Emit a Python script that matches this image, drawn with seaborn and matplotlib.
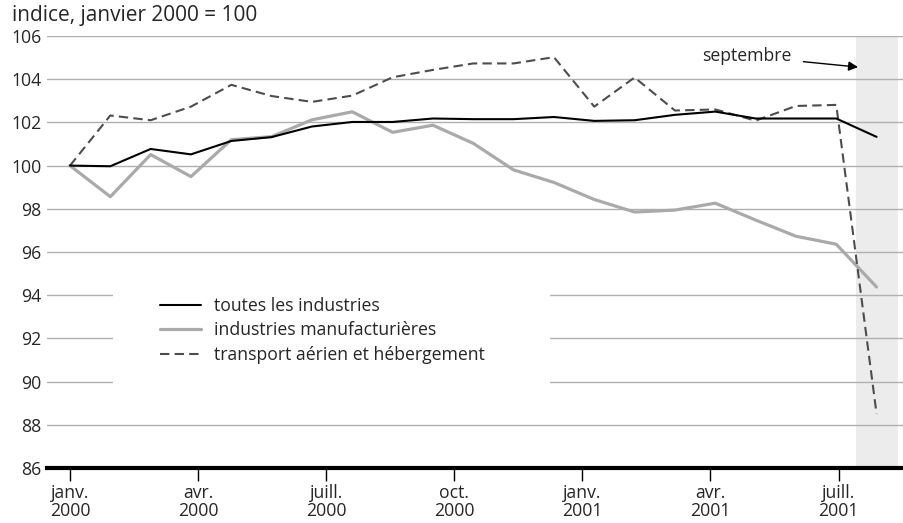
import numpy as np
import pandas as pd
import matplotlib.pyplot as plt
import seaborn as sns
from matplotlib.patches import Rectangle

# monthly index, janv. 2000 .. sept. 2001
months = list(range(21))
toutes = [100, 99.97, 100.77, 100.52, 101.14, 101.32, 101.81, 102.02, 102.02, 102.18,
          102.15, 102.15, 102.25, 102.07, 102.1, 102.35, 102.5, 102.18, 102.18, 102.18, 101.33]
manuf = [100, 98.56, 100.51, 99.49, 101.2, 101.34, 102.12, 102.49, 101.54, 101.87,
         101.03, 99.8, 99.22, 98.43, 97.85, 97.94, 98.26, 97.48, 96.73, 96.36, 94.38]
transport = [100, 102.32, 102.1, 102.73, 103.74, 103.22, 102.95, 103.24, 104.09, 104.43,
             104.73, 104.73, 105.02, 102.73, 104.08, 102.55, 102.6, 102.08, 102.76, 102.81, 88.5]
tick_labels = ['janv.\n2000', 'avr.\n2000', 'juill.\n2000', 'oct.\n2000',
               'janv.\n2001', 'avr.\n2001', 'juill.\n2001']
yticks = list(range(86, 107, 2))

data = pd.DataFrame({'mois': months, 'toutes': toutes, 'manuf': manuf, 'transport': transport})

sns.set_style('white')
plt.rcParams['font.family'] = ['Open Sans', 'DejaVu Sans']
fs = 12.7

fig = plt.figure(figsize=(9.04, 5.23), dpi=100)
ax = fig.add_axes([47/904, 1 - 468/523, 857/904, 432/523])

ax.axvspan(19.48, 20.52, color='#ececec', zorder=0.2, lw=0)
ax.set_axisbelow(True)
ax.yaxis.grid(True, color='#b0b0b0', lw=1)

# white block behind legend hides the grid there
ax.add_patch(Rectangle((0.077, 0.165), 0.51, 0.26, transform=ax.transAxes,
                       facecolor='white', edgecolor='none', zorder=1.5))

sns.lineplot(data=data, x='mois', y='toutes', ax=ax, color='black', lw=1.5,
             label='toutes les industries', zorder=3)
sns.lineplot(data=data, x='mois', y='manuf', ax=ax, color='#aaaaaa', lw=2.3,
             label='industries manufacturières', zorder=2)
sns.lineplot(data=data, x='mois', y='transport', ax=ax, color='#4d4d4d', lw=1.5,
             label='transport aérien et hébergement', zorder=2.5)
ax.lines[-1].set_dashes((4.5, 2.5))

ax.set_xlim(-0.57, 20.68)
ax.set_ylim(86, 106)
ax.set_yticks(yticks)
# ticks in the source are spaced a bit wider than the monthly points
ax.set_xticks(np.arange(7) * 3 * 1.0587)
ax.set_xticklabels(tick_labels)
ax.set_xlabel('')
ax.set_ylabel('')

for s in ['top', 'right', 'left']:
    ax.spines[s].set_visible(False)
ax.spines['bottom'].set_linewidth(3)
ax.spines['bottom'].set_color('black')
ax.spines['bottom'].set_zorder(4)
ax.tick_params(axis='y', length=0, pad=4, labelsize=fs)
ax.tick_params(axis='x', direction='out', length=9, width=1, color='black',
               pad=2.5, labelsize=fs, bottom=True)
for t in ax.get_xticklabels():
    t.set_linespacing(0.98)

leg = ax.legend(loc='upper left', bbox_to_anchor=(160/904, 1 - 297/523),
                bbox_transform=fig.transFigure, frameon=False, fontsize=fs,
                handlelength=2.3, handletextpad=0.75, labelspacing=0.36,
                borderpad=0, borderaxespad=0)

ax.annotate('septembre', xy=(19.54, 104.56), xytext=(17.9, 105.07),
            ha='right', va='center', fontsize=fs,
            arrowprops=dict(arrowstyle='-|>', color='black', lw=1,
                            shrinkA=6, shrinkB=0, mutation_scale=14))

fig.text(12/904, 1 - 15/523, 'indice, janvier 2000 = 100', ha='left', va='center', fontsize=15)

fig.savefig('out.png', dpi=100)
